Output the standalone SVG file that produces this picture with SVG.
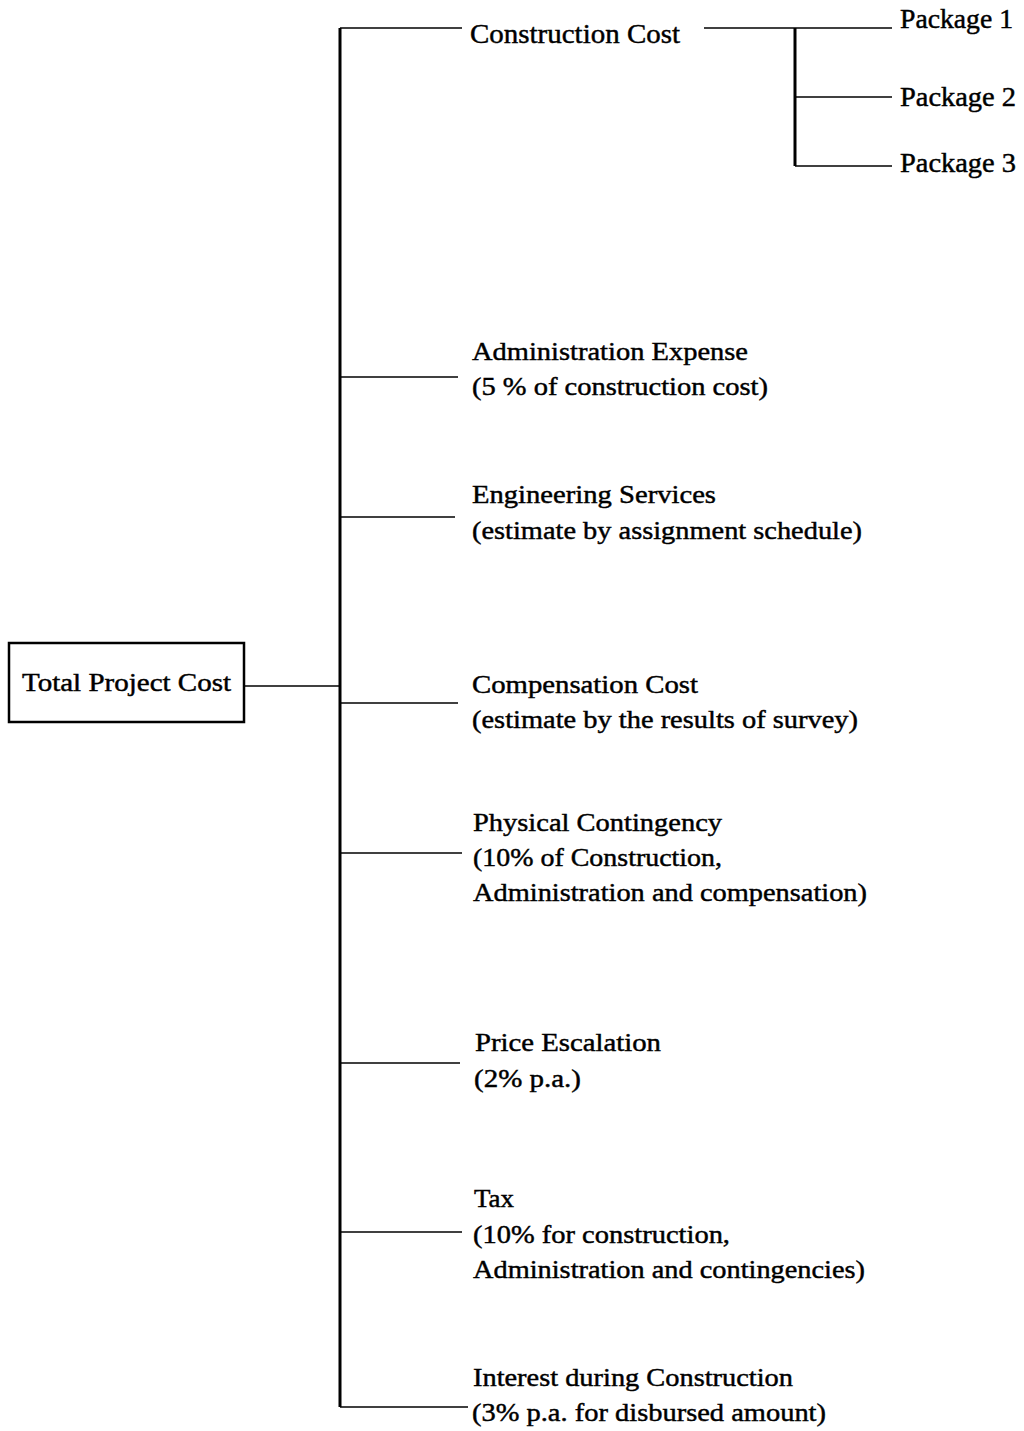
<svg xmlns="http://www.w3.org/2000/svg" width="1024" height="1431" viewBox="0 0 1024 1431">
<style>
text{font-family:"Liberation Serif","Times New Roman",serif;font-size:26px;fill:#000;stroke:#000;stroke-width:0.45}
.big{font-size:27px}
.ln{stroke:#000;stroke-width:1.6;fill:none}
.trunk{stroke:#000;stroke-width:3;fill:none}
</style>
<rect width="1024" height="1431" fill="#fff"/>
<g id="connectors">
<path class="trunk" d="M340,28 V1407"/>
<path class="ln" d="M340,28 H462"/>
<path class="ln" d="M244,686 H340"/>
<path class="ln" d="M340,377 H458"/>
<path class="ln" d="M340,517 H455"/>
<path class="ln" d="M340,703 H458"/>
<path class="ln" d="M340,853 H462"/>
<path class="ln" d="M340,1063 H460"/>
<path class="ln" d="M340,1232 H462"/>
<path class="ln" d="M340,1407 H468"/>
<path class="ln" d="M704,28 H892"/>
<path class="trunk" d="M795,28 V166"/>
<path class="ln" d="M795,97 H892"/>
<path class="ln" d="M795,166 H892"/>
</g>
<g id="total">
<rect x="9" y="643" width="235" height="79" fill="none" stroke="#000" stroke-width="2.5"/>
<text x="22" y="691" textLength="209" lengthAdjust="spacingAndGlyphs">Total Project Cost</text>
</g>
<g id="construction">
<text class="big" x="470" y="43" textLength="210" lengthAdjust="spacingAndGlyphs">Construction Cost</text>
</g>
<g id="package1"><text class="big" x="900" y="28" textLength="113" lengthAdjust="spacingAndGlyphs">Package 1</text></g>
<g id="package2"><text class="big" x="900" y="106" textLength="116" lengthAdjust="spacingAndGlyphs">Package 2</text></g>
<g id="package3"><text class="big" x="900" y="172" textLength="116" lengthAdjust="spacingAndGlyphs">Package 3</text></g>
<g id="admin">
<text x="472" y="360" textLength="276" lengthAdjust="spacingAndGlyphs">Administration Expense</text>
<text x="472" y="395" textLength="296" lengthAdjust="spacingAndGlyphs">(5 % of construction cost)</text>
</g>
<g id="engineering">
<text x="472" y="503" textLength="244" lengthAdjust="spacingAndGlyphs">Engineering Services</text>
<text x="472" y="539" textLength="390" lengthAdjust="spacingAndGlyphs">(estimate by assignment schedule)</text>
</g>
<g id="compensation">
<text x="472" y="693" textLength="226" lengthAdjust="spacingAndGlyphs">Compensation Cost</text>
<text x="472" y="728" textLength="386" lengthAdjust="spacingAndGlyphs">(estimate by the results of survey)</text>
</g>
<g id="physical">
<text x="473" y="831" textLength="249" lengthAdjust="spacingAndGlyphs">Physical Contingency</text>
<text x="473" y="866" textLength="249" lengthAdjust="spacingAndGlyphs">(10% of Construction,</text>
<text x="473" y="901" textLength="394" lengthAdjust="spacingAndGlyphs">Administration and compensation)</text>
</g>
<g id="price">
<text x="475" y="1051" textLength="186" lengthAdjust="spacingAndGlyphs">Price Escalation</text>
<text x="474" y="1087" textLength="107" lengthAdjust="spacingAndGlyphs">(2% p.a.)</text>
</g>
<g id="tax">
<text x="474" y="1207" textLength="40" lengthAdjust="spacingAndGlyphs">Tax</text>
<text x="473" y="1243" textLength="257" lengthAdjust="spacingAndGlyphs">(10% for construction,</text>
<text x="473" y="1278" textLength="392" lengthAdjust="spacingAndGlyphs">Administration and contingencies)</text>
</g>
<g id="interest">
<text x="473" y="1386" textLength="320" lengthAdjust="spacingAndGlyphs">Interest during Construction</text>
<text x="472" y="1421" textLength="354" lengthAdjust="spacingAndGlyphs">(3% p.a. for disbursed amount)</text>
</g>
</svg>
